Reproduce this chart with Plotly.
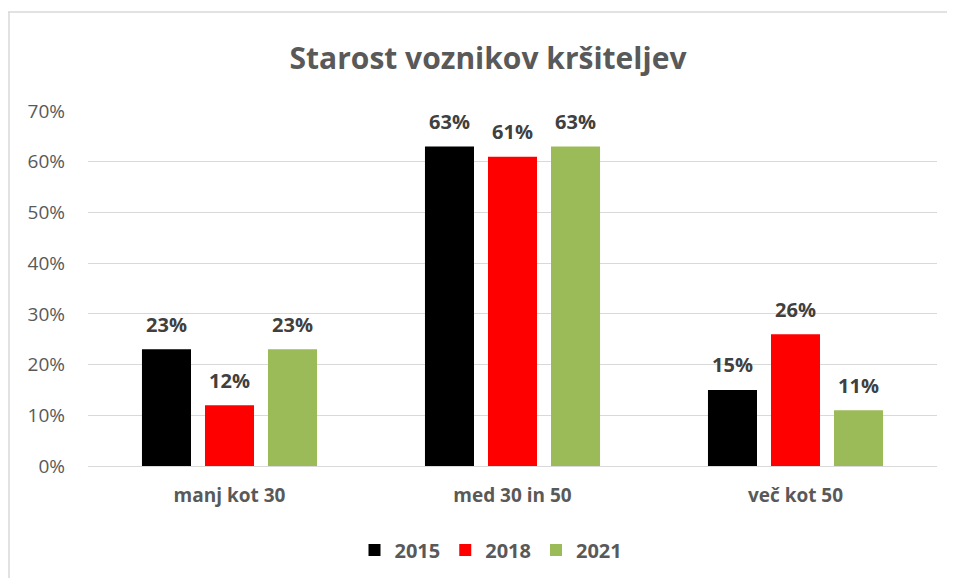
import plotly.graph_objects as go

categories = ["manj kot 30", "med 30 in 50", "več kot 50"]
series_names = ["2015", "2018", "2021"]
values_2015 = [0.23, 0.63, 0.15]
values_2018 = [0.12, 0.61, 0.26]
values_2021 = [0.23, 0.63, 0.11]
colors = ["#000000", "#FF0000", "#9BBB59"]

FONT = "Open Sans"
L, R, T, B = 80, 26, 103, 120
W, H = 955, 578
PW = W - L - R
PH = H - T - B
LABEL_PAD = 0.017  # spacer (in axis units) between bar top and its value label

fig = go.Figure()
for i, (name, vals, col) in enumerate(zip(series_names, [values_2015, values_2018, values_2021], colors)):
    fig.add_trace(go.Bar(
        x=categories, y=vals, name=name, offsetgroup=str(i),
        marker=dict(color=col, line=dict(width=0)),
    ))
    fig.add_trace(go.Bar(
        x=categories, y=[LABEL_PAD] * len(vals), base=vals, offsetgroup=str(i),
        marker=dict(color="rgba(0,0,0,0)", line=dict(width=0)), showlegend=False,
        hoverinfo="skip",
        text=[f"{round(v*100)}%" for v in vals], textposition="outside",
        textfont=dict(family=FONT, size=20, color="#404040", weight="bold"),
        cliponaxis=False,
    ))

fig.update_layout(
    width=W, height=H,
    margin=dict(l=L, r=R, t=T, b=B),
    paper_bgcolor="white", plot_bgcolor="white",
    barmode="group", bargap=0.332, bargroupgap=0.222,
    title=dict(text="<b>Starost voznikov kršiteljev</b>", x=(488 - 8) / W, xanchor="center",
               y=1 - (58 - 8) / H, yanchor="middle",
               font=dict(family=FONT, size=30, color="#595959")),
    showlegend=True,
    legend=dict(orientation="h", x=(491 - 8 - L) / PW, xanchor="center",
                y=-(550 - 8 - T - PH) / PH, yanchor="middle",
                font=dict(family=FONT, size=20, color="#595959", weight="bold"),
                itemwidth=30, traceorder="normal"),
    xaxis=dict(showgrid=False, showline=True, linecolor="#D9D9D9", linewidth=1,
               ticks="", ticklabelstandoff=12,
               tickfont=dict(family=FONT, size=19, color="#595959", weight="bold")),
    yaxis=dict(range=[0, 0.7], dtick=0.1, tickformat=".0%", showgrid=True,
               gridcolor="#D9D9D9", gridwidth=1, zeroline=False, showline=False,
               ticks="", ticklabelstandoff=22,
               tickfont=dict(family=FONT, size=19, color="#595959")),
    shapes=[
        dict(type="line", xref="paper", yref="paper", x0=-L / PW, x1=1.2,
             y0=(PH + T - 4) / PH, y1=(PH + T - 4) / PH,
             line=dict(color="#D9D9D9", width=1.5)),
        dict(type="line", xref="paper", yref="paper", x0=-(L - 1) / PW, x1=-(L - 1) / PW,
             y0=-0.5, y1=(PH + T - 4) / PH,
             line=dict(color="#D9D9D9", width=1.5)),
    ],
)

fig.write_html("out.html")
